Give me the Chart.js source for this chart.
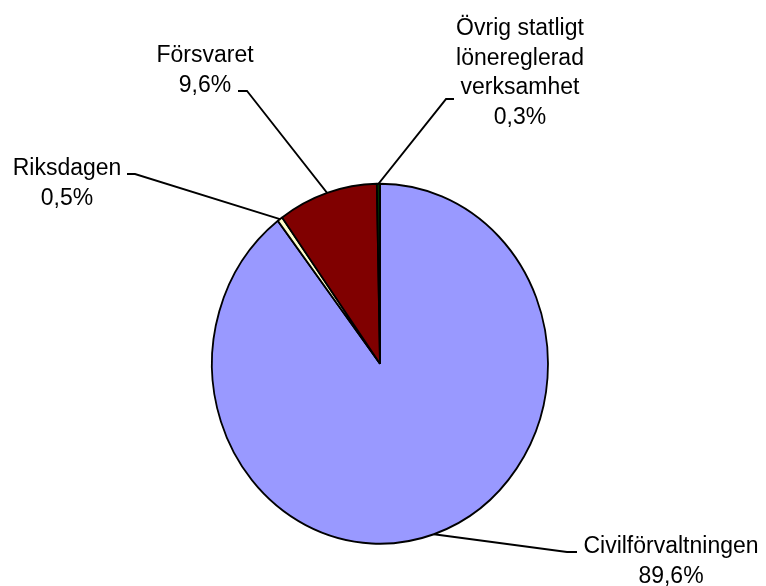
<!DOCTYPE html>
<html lang="sv">
<head>
<meta charset="utf-8">
<title>Fördelning</title>
<script src="https://cdn.jsdelivr.net/npm/chart.js@4"></script>
<style>
    body { margin: 0; background: #ffffff; }
    #wrap { width: 766px; height: 586px; position: relative; }
</style>
</head>
<body>
<div id="wrap"><canvas id="fordelningChart"></canvas></div>
<script>
// Kategorier (en rad per textrad i etiketten) och andelar i procent
const categoryLines = [
    ['Civilförvaltningen'],
    ['Riksdagen'],
    ['Försvaret'],
    ['Övrig statligt', 'lönereglerad', 'verksamhet']
];
const categories = categoryLines.map(l => l.join(' '));
const shares = [89.6, 0.5, 9.6, 0.3];

// Färger som i originalet
const sliceColors = ['#9999FF', '#FFFFCC', '#800000', '#003300'];

// Originalet är lite utdraget på höjden (ellips 168 x 180)
const STRETCH_Y = 180 / 168;

// Etikettplacering i skärmkoordinater: textens mittpunkt x, första baslinje, knäpunkter för linjen
const labelLayout = [
    { cx: 671, base: 553, line: [[577, 552], [567, 552]] },
    { cx: 67,  base: 175, line: [[127, 174], [135, 174]] },
    { cx: 205, base: 62,  line: [[238, 91],  [247, 91]] },
    { cx: 520, base: 35,  line: [[454, 99],  [446, 99]] }
];
const LINE_STEP = 29.7;

function formatPct(v) {
    return v.toFixed(1).replace('.', ',') + '%';
}

const etiketterPlugin = {
    id: 'etiketter',
    beforeDraw(chart) {
        const ctx = chart.ctx;
        ctx.save();
        ctx.fillStyle = '#ffffff';
        ctx.fillRect(0, 0, chart.width, chart.height);
        ctx.scale(1, STRETCH_Y);
    },
    afterDraw(chart) {
        const ctx = chart.ctx;
        const meta = chart.getDatasetMeta(0);
        ctx.save();
        ctx.strokeStyle = '#000000';
        ctx.lineWidth = 1.8;
        ctx.fillStyle = '#000000';
        ctx.font = '23px "Liberation Sans", Arial, sans-serif';
        ctx.textAlign = 'center';
        ctx.textBaseline = 'alphabetic';

        meta.data.forEach(function(arc, i) {
            const p = arc.getProps(['x', 'y', 'startAngle', 'endAngle', 'outerRadius'], true);
            const mid = (p.startAngle + p.endAngle) / 2;
            const ex = p.x + p.outerRadius * Math.cos(mid);
            const ey = p.y + p.outerRadius * Math.sin(mid);
            const lay = labelLayout[i];

            // linje från etikett till sektorns mittpunkt på kanten
            ctx.beginPath();
            ctx.moveTo(lay.line[0][0], lay.line[0][1] / STRETCH_Y);
            ctx.lineTo(lay.line[1][0], lay.line[1][1] / STRETCH_Y);
            ctx.lineTo(ex, ey);
            ctx.stroke();

            const rows = categoryLines[i].concat([formatPct(shares[i])]);
            rows.forEach(function(txt, r) {
                ctx.fillText(txt, lay.cx, (lay.base + r * LINE_STEP) / STRETCH_Y);
            });
        });
        ctx.restore();
        ctx.restore();
    }
};

document.addEventListener('DOMContentLoaded', function() {
    const ctxFordelning = document.getElementById('fordelningChart');
    new Chart(ctxFordelning, {
        type: 'pie',
        data: {
            labels: categories,
            datasets: [{
                data: shares,
                backgroundColor: sliceColors,
                borderColor: '#000000',
                borderWidth: 1.8,
                radius: 168,
                clip: false
            }]
        },
        options: {
            responsive: true,
            maintainAspectRatio: false,
            animation: false,
            events: [],
            layout: {
                padding: { left: 212, right: 218, top: 150, bottom: 57 }
            },
            plugins: {
                legend: { display: false },
                tooltip: { enabled: false }
            }
        },
        plugins: [etiketterPlugin]
    });
});
</script>
</body>
</html>
